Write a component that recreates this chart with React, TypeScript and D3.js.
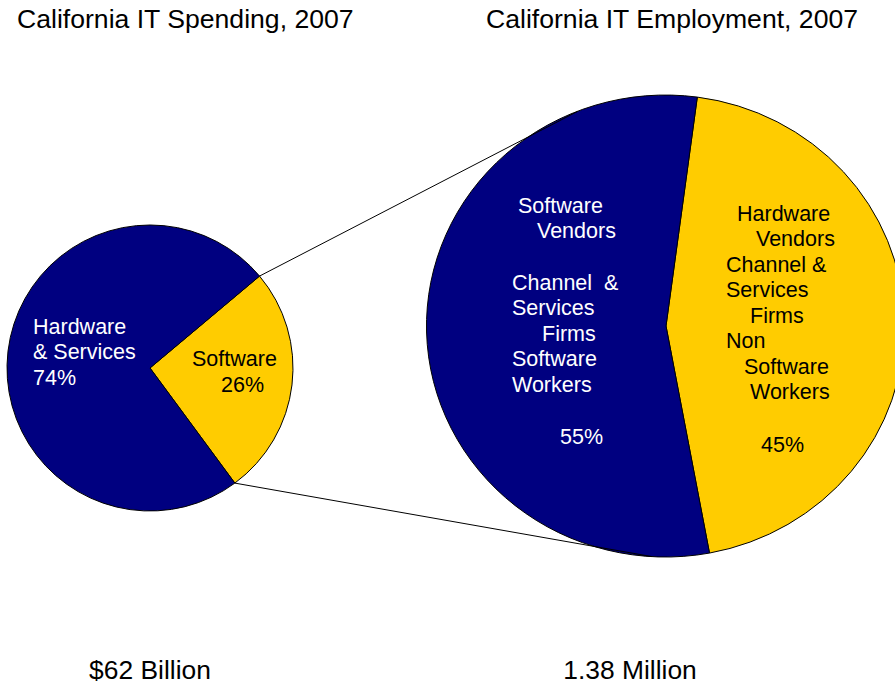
import React from "react";
import * as d3 from "d3";

// ---- data ----
const spendingCategories = ["Software", "Hardware & Services"];
const spendingValues = [26, 74];
const employmentCategories = ["Hardware Vendors / Channel & Services / Non Software Workers", "Software Vendors / Channel & Services / Software Workers"];
const employmentValues = [45, 55];
const titles = ["California IT Spending, 2007", "California IT Employment, 2007"];
const totals = ["$62 Billion", "1.38 Million"];
const spendingLabelLines = [
  ["Software", "26%"],
  ["Hardware", "& Services", "74%"],
];
const employmentLabelLines = [
  ["Hardware", "Vendors", "Channel &", "Services", "Firms", "Non", "Software", "Workers", "45%"],
  ["Software", "Vendors", "", "Channel  &", "Services", "Firms", "Software", "Workers", "", "55%"],
];

// ---- layout / style ----
const W = 895;
const H = 686;
const NAVY = "#000080";
const GOLD = "#FFCC00";
const FONT = "'Liberation Sans', Arial, Helvetica, sans-serif";
const deg = Math.PI / 180;

const left = { cx: 150, cy: 368, r: 143, start: 50 * deg };
const right = { cx: 666, cy: 326, rx: 239, ry: 231, start: 7.5 * deg };
const colors = [GOLD, NAVY];
const textColors = ["#000", "#fff"];

// label placements (x per line, baselines)
const spendingLabelPos = [
  { xs: [192, 221], ys: [366, 392] },
  { xs: [33, 33, 33], ys: [334, 359, 385] },
];
const employmentLabelPos = [
  { xs: [737, 756, 726, 726, 750, 726, 744, 750, 761], ys: [221, 246, 272, 297, 323, 348, 374, 399, 452] },
  { xs: [518, 537, 0, 512, 512, 542, 512, 512, 0, 560], ys: [213, 238, 0, 290, 315, 341, 366, 392, 0, 444] },
];

// connector target angles on right pie (clockwise from top)
const connectorTargets = [338.3 * deg, 183.4 * deg];

export default function App() {
  const pieL = d3.pie<number>().sort(null).startAngle(left.start).endAngle(left.start + 2 * Math.PI);
  const pieR = d3.pie<number>().sort(null).startAngle(right.start).endAngle(right.start + 2 * Math.PI);
  const arcsL = pieL(spendingValues);
  const arcsR = pieR(employmentValues);
  const arcL = d3.arc<d3.PieArcDatum<number>>().innerRadius(0).outerRadius(left.r);
  const arcR = d3.arc<d3.PieArcDatum<number>>().innerRadius(0).outerRadius(1);

  const pt = (cx: number, cy: number, rx: number, ry: number, a: number) => [cx + rx * Math.sin(a), cy - ry * Math.cos(a)];
  const sw = arcsL[0];
  const p1 = pt(left.cx, left.cy, left.r, left.r, sw.startAngle);
  const p2 = pt(left.cx, left.cy, left.r, left.r, sw.endAngle);
  const q1 = pt(right.cx, right.cy, right.rx, right.ry, connectorTargets[0]);
  const q2 = pt(right.cx, right.cy, right.rx, right.ry, connectorTargets[1]);

  return (
    <svg width={W} height={H} style={{ position: "absolute", left: 0, top: 0, background: "#fff" }} fontFamily={FONT}>
      <rect x={0} y={0} width={W} height={H} fill="#fff" />
      {/* right pie (ellipse) */}
      <g transform={`translate(${right.cx},${right.cy}) scale(${right.rx},${right.ry})`}>
        {arcsR.map((a, i) => (
          <path key={employmentCategories[i]} d={arcR(a) || ""} fill={colors[i]} stroke="#000" strokeWidth={1} vectorEffect="non-scaling-stroke" />
        ))}
      </g>
      {/* left pie */}
      <g transform={`translate(${left.cx},${left.cy})`}>
        {arcsL.map((a, i) => (
          <path key={spendingCategories[i]} d={arcL(a) || ""} fill={colors[i]} stroke="#000" strokeWidth={1} />
        ))}
      </g>
      {/* connectors */}
      <line x1={p1[0]} y1={p1[1]} x2={q1[0]} y2={q1[1]} stroke="#000" strokeWidth={1} />
      <line x1={p2[0]} y1={p2[1]} x2={q2[0]} y2={q2[1]} stroke="#000" strokeWidth={1} />
      {/* labels */}
      {spendingLabelLines.map((lines, i) =>
        lines.map((t, j) =>
          t ? (
            <text key={`s${i}${j}`} x={spendingLabelPos[i].xs[j]} y={spendingLabelPos[i].ys[j]} fontSize={21.5} fill={textColors[i]} style={{ whiteSpace: "pre" }}>
              {t}
            </text>
          ) : null
        )
      )}
      {employmentLabelLines.map((lines, i) =>
        lines.map((t, j) =>
          t ? (
            <text key={`e${i}${j}`} x={employmentLabelPos[i].xs[j]} y={employmentLabelPos[i].ys[j]} fontSize={21.5} fill={textColors[i]} style={{ whiteSpace: "pre" }}>
              {t}
            </text>
          ) : null
        )
      )}
      {/* titles */}
      <text x={17} y={28} fontSize={26.6} fill="#000">{titles[0]}</text>
      <text x={486} y={28} fontSize={26.6} fill="#000">{titles[1]}</text>
      {/* totals */}
      <text x={150} y={679} fontSize={26.4} fill="#000" textAnchor="middle">{totals[0]}</text>
      <text x={630} y={679} fontSize={26.4} fill="#000" textAnchor="middle">{totals[1]}</text>
    </svg>
  );
}
